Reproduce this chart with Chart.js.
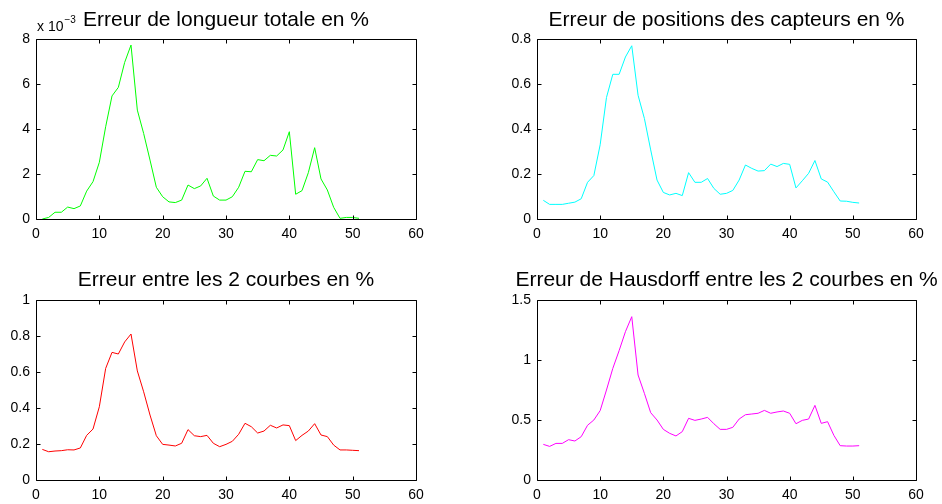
<!DOCTYPE html>
<html>
<head>
<meta charset="utf-8">
<script src="https://cdn.jsdelivr.net/npm/chart.js@4.4.1/dist/chart.umd.min.js"></script>
<style>
  html, body { margin: 0; padding: 0; background: #fff; }
  #wrap { position: relative; width: 942px; height: 504px; overflow: hidden; }
  canvas { position: absolute; }
</style>
</head>
<body>
<div id="wrap">
  <canvas id="c1" width="471" height="252" style="left:0px;top:0px"></canvas>
  <canvas id="c2" width="471" height="252" style="left:471px;top:0px"></canvas>
  <canvas id="c3" width="471" height="252" style="left:0px;top:252px"></canvas>
  <canvas id="c4" width="471" height="252" style="left:471px;top:252px"></canvas>
</div>
<script>
// sample index (x axis)
var steps = [1, 2, 3, 4, 5, 6, 7, 8, 9, 10, 11, 12, 13, 14, 15, 16, 17, 18, 19, 20,
  21, 22, 23, 24, 25, 26, 27, 28, 29, 30, 31, 32, 33, 34, 35, 36, 37, 38, 39, 40,
  41, 42, 43, 44, 45, 46, 47, 48, 49, 50, 51];

// total length error, in units of 1e-3 %
var lengthErr = [0.00, 0.07, 0.30, 0.30, 0.53, 0.46, 0.58, 1.24, 1.66, 2.52,
  4.10, 5.47, 5.85, 6.96, 7.73, 4.84, 3.80, 2.62, 1.41, 0.99,
  0.76, 0.73, 0.84, 1.51, 1.35, 1.47, 1.81, 1.02, 0.84, 0.84,
  0.99, 1.41, 2.12, 2.10, 2.64, 2.59, 2.83, 2.80, 3.07, 3.88,
  1.10, 1.26, 2.06, 3.17, 1.78, 1.29, 0.52, 0.03, 0.07, 0.07, 0.03];

// sensor position error %
var sensorErr = [0.083, 0.065, 0.065, 0.065, 0.070, 0.075, 0.090, 0.163, 0.193, 0.330,
  0.540, 0.643, 0.643, 0.720, 0.770, 0.550, 0.447, 0.307, 0.173, 0.118,
  0.107, 0.114, 0.104, 0.206, 0.163, 0.163, 0.180, 0.136, 0.110, 0.114,
  0.127, 0.173, 0.240, 0.225, 0.213, 0.215, 0.244, 0.233, 0.247, 0.243,
  0.138, 0.170, 0.203, 0.260, 0.178, 0.164, 0.121, 0.080, 0.079, 0.074, 0.071];

// error between the 2 curves %
var curveErr = [0.170, 0.157, 0.161, 0.163, 0.168, 0.167, 0.178, 0.248, 0.283, 0.407,
  0.620, 0.709, 0.700, 0.767, 0.811, 0.606, 0.490, 0.361, 0.246, 0.198,
  0.194, 0.189, 0.204, 0.280, 0.246, 0.241, 0.248, 0.204, 0.185, 0.198,
  0.215, 0.254, 0.315, 0.296, 0.261, 0.272, 0.304, 0.289, 0.306, 0.302,
  0.219, 0.248, 0.272, 0.313, 0.250, 0.241, 0.194, 0.167, 0.167, 0.165, 0.163];

// Hausdorff error %
var hausdorffErr = [0.297, 0.280, 0.305, 0.305, 0.336, 0.325, 0.361, 0.456, 0.500, 0.578,
  0.750, 0.930, 1.078, 1.236, 1.361, 0.875, 0.722, 0.561, 0.500, 0.422,
  0.389, 0.367, 0.403, 0.514, 0.497, 0.508, 0.522, 0.469, 0.422, 0.422,
  0.439, 0.508, 0.544, 0.550, 0.556, 0.580, 0.556, 0.567, 0.575, 0.556,
  0.469, 0.497, 0.508, 0.622, 0.472, 0.486, 0.372, 0.286, 0.283, 0.283, 0.286];

var xTicks = [0, 10, 20, 30, 40, 50, 60];

var FONT = '"Liberation Sans", Arial, Helvetica, sans-serif';

// box around the axes + ticks pointing inward, like matlab
var boxPlugin = {
  id: 'matlabBox',
  afterDraw: function (chart) {
    var ctx = chart.ctx, a = chart.chartArea;
    var L = Math.round(a.left) + 0.5, R = Math.round(a.right) + 0.5;
    var T = Math.round(a.top) + 0.5, B = Math.round(a.bottom) + 0.5;
    ctx.save();
    ctx.strokeStyle = '#000';
    ctx.lineWidth = 1;
    ctx.beginPath();
    ctx.rect(L, T, R - L, B - T);
    chart.scales.x.ticks.forEach(function (t) {
      var px = Math.round(chart.scales.x.getPixelForValue(t.value)) + 0.5;
      ctx.moveTo(px, B); ctx.lineTo(px, B - 4);
      ctx.moveTo(px, T); ctx.lineTo(px, T + 4);
    });
    chart.scales.y.ticks.forEach(function (t) {
      var py = Math.round(chart.scales.y.getPixelForValue(t.value)) + 0.5;
      ctx.moveTo(L, py); ctx.lineTo(L + 4, py);
      ctx.moveTo(R, py); ctx.lineTo(R - 4, py);
    });
    ctx.stroke();
    ctx.restore();
  }
};

// axes title centred over the plot area (no width squeeze), plus the
// "x 10^-3" multiplier above the first plot
var titlePlugin = {
  id: 'axTitle',
  afterDraw: function (chart) {
    var o = chart.options.plugins.axTitle;
    var ctx = chart.ctx, a = chart.chartArea;
    ctx.save();
    ctx.fillStyle = '#000';
    ctx.textBaseline = 'alphabetic';
    ctx.textAlign = 'center';
    ctx.font = '21px ' + FONT;
    ctx.fillText(o.text, (a.left + a.right) / 2, o.baseline);
    if (o.showExp) {
      ctx.textAlign = 'left';
      ctx.font = '14px ' + FONT;
      ctx.fillText('x 10', 37, 31);
      var w = ctx.measureText('x 10').width;
      ctx.font = '10px ' + FONT;
      ctx.fillText('\u22123', 37 + w + 1, 23);
    }
    ctx.restore();
  }
};

function makeChart(id, values, color, title, yMax, yStep, box, showExp) {
  var points = steps.map(function (s, i) { return { x: s, y: values[i] }; });
  return new Chart(document.getElementById(id), {
    type: 'line',
    data: {
      datasets: [{
        data: points,
        borderColor: color,
        borderWidth: 1,
        pointRadius: 0,
        tension: 0,
        fill: false
      }]
    },
    options: {
      responsive: false,
      animation: false,
      events: [],
      layout: { padding: { left: 0, right: box.padRight, top: box.top, bottom: 0 } },
      plugins: {
        legend: { display: false },
        tooltip: { enabled: false },
        title: { display: false },
        axTitle: { text: title, baseline: box.titleBase, showExp: showExp }
      },
      scales: {
        x: {
          type: 'linear',
          min: 0,
          max: 60,
          afterBuildTicks: function (scale) {
            scale.ticks = xTicks.map(function (v) { return { value: v }; });
          },
          afterFit: function (scale) { scale.height = box.xHeight; },
          grid: { display: false, drawTicks: false },
          border: { display: false },
          ticks: {
            color: '#000',
            padding: 7,
            maxRotation: 0,
            font: { family: FONT, size: 14 }
          }
        },
        y: {
          min: 0,
          max: yMax,
          afterFit: function (scale) { scale.width = box.yWidth; },
          grid: { display: false, drawTicks: false },
          border: { display: false },
          ticks: {
            stepSize: yStep,
            color: '#000',
            padding: 6,
            font: { family: FONT, size: 14 },
            callback: function (v) { return String(Math.round(v * 10) / 10); }
          }
        }
      }
    },
    plugins: [boxPlugin, titlePlugin]
  });
}

var leftTop = { padRight: 55, yWidth: 36, xHeight: 33, top: 39, titleBase: 26 };
var rightTop = { padRight: 26, yWidth: 66, xHeight: 33, top: 39, titleBase: 26 };
var leftBot = { padRight: 55, yWidth: 36, xHeight: 24, top: 48, titleBase: 34 };
var rightBot = { padRight: 26, yWidth: 66, xHeight: 24, top: 48, titleBase: 34 };

makeChart('c1', lengthErr, '#00ff00', 'Erreur de longueur totale en %', 8, 2, leftTop, true);
makeChart('c2', sensorErr, '#00ffff', 'Erreur de positions des capteurs en %', 0.8, 0.2, rightTop, false);
makeChart('c3', curveErr, '#ff0000', 'Erreur entre les 2 courbes en %', 1, 0.2, leftBot, false);
makeChart('c4', hausdorffErr, '#ff00ff', 'Erreur de Hausdorff entre les 2 courbes en %', 1.5, 0.5, rightBot, false);
</script>
</body>
</html>
